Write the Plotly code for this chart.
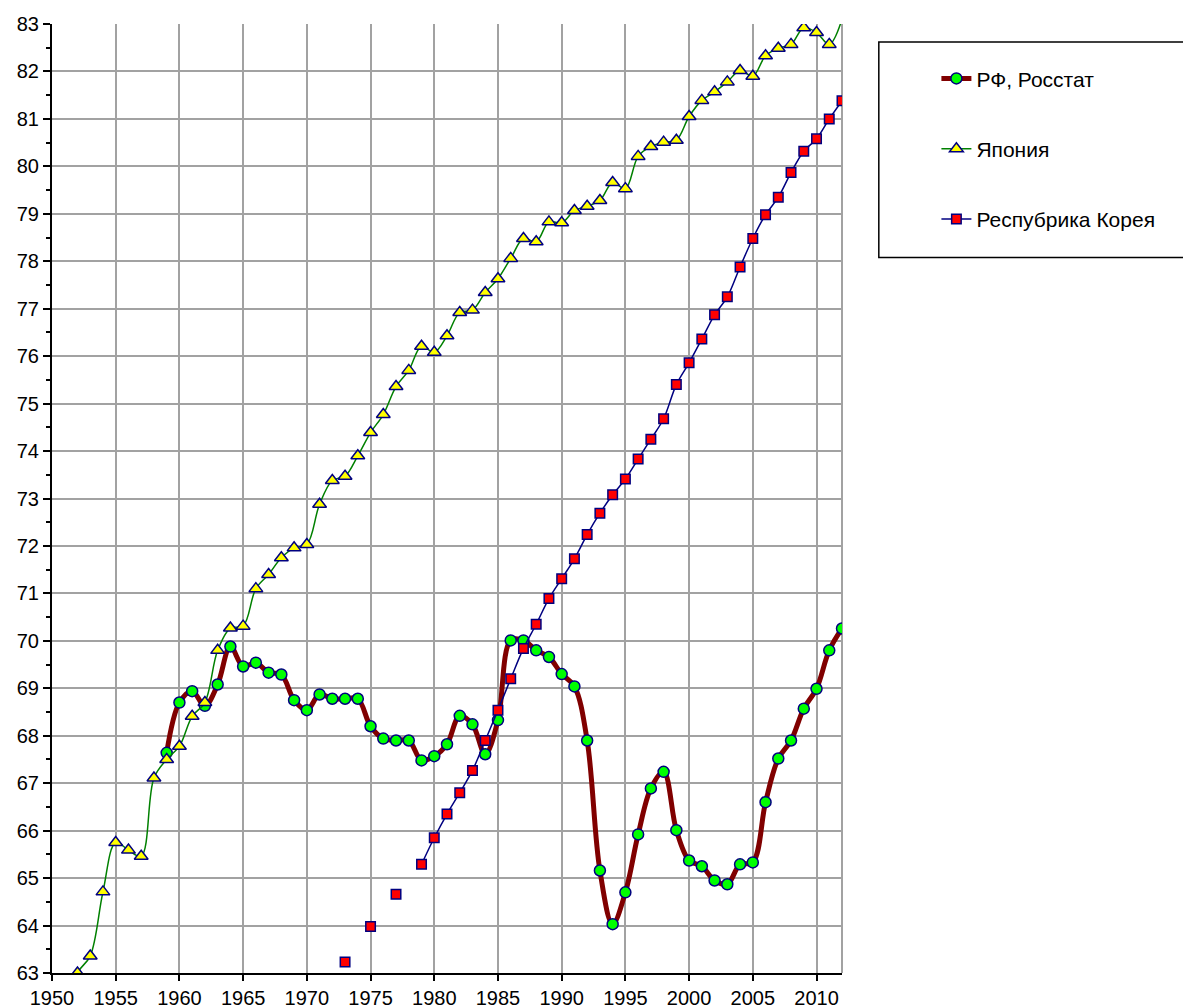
import plotly.graph_objects as go

# ---- data ----
rus_years = list(range(1959, 2013))
rus_values = [67.64, 68.70, 68.94, 68.63, 69.08, 69.88, 69.46, 69.54, 69.33, 69.29,
              68.75, 68.54, 68.87, 68.78, 68.78, 68.78, 68.20, 67.94, 67.90, 67.90,
              67.48, 67.57, 67.82, 68.42, 68.24, 67.61, 68.33, 70.01, 70.01, 69.80,
              69.66, 69.30, 69.04, 67.90, 65.16, 64.03, 64.70, 65.92, 66.89, 67.24,
              66.01, 65.37, 65.25, 64.95, 64.87, 65.29, 65.33, 66.60, 67.52, 67.90,
              68.57, 68.99, 69.80, 70.26]

jpn_years = list(range(1951, 2013))
jpn_values = [62.0, 63.0, 63.36, 64.71, 65.75, 65.59, 65.46, 67.11, 67.50, 67.78,
              68.41, 68.70, 69.80, 70.27, 70.31, 71.10, 71.40, 71.75, 71.96, 72.03,
              72.88, 73.38, 73.47, 73.90, 74.39, 74.77, 75.36, 75.70, 76.21, 76.08,
              76.43, 76.92, 76.97, 77.34, 77.63, 78.06, 78.48, 78.41, 78.83, 78.81,
              79.07, 79.16, 79.28, 79.66, 79.53, 80.21, 80.42, 80.51, 80.55, 81.05,
              81.39, 81.57, 81.78, 82.02, 81.90, 82.33, 82.49, 82.57, 82.92, 82.82,
              82.57, 83.1]

kor_years = list(range(1973, 2013))
kor_values = [63.23, None, 63.98, None, 64.66, None, 65.29, 65.85, 66.35, 66.80,
              67.27, 67.90, 68.54, 69.20, 69.84, 70.35, 70.89, 71.31, 71.73, 72.24,
              72.69, 73.08, 73.41, 73.83, 74.25, 74.68, 75.40, 75.86, 76.36, 76.87,
              77.25, 77.88, 78.48, 78.98, 79.35, 79.87, 80.32, 80.58, 81.00, 81.38]

names = ["РФ, Росстат", "Япония", "Респубрика Корея"]

x_ticks = list(range(1950, 2011, 5))
y_ticks = list(range(63, 84))

NAVY = "#000080"
GRID = "#A2A2A2"
FONT = "Liberation Sans, Arial, sans-serif"

fig = go.Figure()

fig.add_trace(go.Scatter(
    x=rus_years, y=rus_values, name=names[0], mode="lines+markers",
    line=dict(color="#800000", width=5, shape="spline", smoothing=1.0),
    marker=dict(symbol="circle", size=11, color="#00FF00",
                line=dict(color=NAVY, width=1.5)),
    legendgroup="a",
))
fig.add_trace(go.Scatter(
    x=jpn_years, y=jpn_values, name=names[1], mode="lines+markers",
    line=dict(color="#008000", width=1.5, shape="spline", smoothing=1.0),
    marker=dict(symbol="triangle-up", size=12, color="#FFFF00",
                line=dict(color=NAVY, width=1.5)),
    legendgroup="b",
))
fig.add_trace(go.Scatter(
    x=kor_years, y=kor_values, name=names[2], mode="lines+markers",
    connectgaps=False,
    line=dict(color=NAVY, width=1.5, shape="spline", smoothing=1.0),
    marker=dict(symbol="square", size=9.5, color="#FF0000",
                line=dict(color=NAVY, width=1.5)),
    legendgroup="c",
))

fig.update_layout(
    width=1183, height=1008,
    margin=dict(l=52, r=340.5, t=23.7, b=35.3, autoexpand=False),
    paper_bgcolor="white", plot_bgcolor="white",
    font=dict(family=FONT, size=20, color="black"),
    showlegend=True,
    legend=dict(
        x=1.1195, y=0.9639, xanchor="left", yanchor="top",
        bgcolor="rgba(0,0,0,0)", borderwidth=0,
        traceorder="grouped", tracegroupgap=40,
        font=dict(family=FONT, size=21, color="black"),
    ),
    xaxis=dict(
        range=[1950, 2012], tickmode="array", tickvals=x_ticks,
        ticktext=[str(v) for v in x_ticks], automargin=False,
        showgrid=True, gridcolor=GRID, gridwidth=2,
        showline=True, linecolor="black", linewidth=2,
        ticks="outside", ticklen=6, tickwidth=1.5, tickcolor="black",
        tickfont=dict(family=FONT, size=20), zeroline=False,
    ),
    yaxis=dict(
        range=[63, 83], tickmode="array", tickvals=y_ticks,
        ticktext=[str(v) for v in y_ticks], automargin=False,
        showgrid=True, gridcolor=GRID, gridwidth=2,
        showline=True, linecolor="black", linewidth=2,
        ticks="outside", ticklen=7, tickwidth=1.5, tickcolor="black",
        minor=dict(dtick=0.5, ticks="outside", ticklen=4, tickwidth=1.5,
                   tickcolor="black", showgrid=False),
        tickfont=dict(family=FONT, size=20), zeroline=False,
    ),
    shapes=[
        dict(type="line", xref="paper", yref="paper", x0=1, x1=1, y0=0, y1=1,
             line=dict(color=GRID, width=2), layer="below"),
        dict(type="rect", xref="paper", yref="paper",
             x0=1.0466, x1=1.435, y0=0.754, y1=0.981,
             line=dict(color="black", width=1.5), fillcolor="rgba(0,0,0,0)"),
    ],
)

fig.write_html(
    "out.html",
    config={"displayModeBar": False},
    post_script="document.body.style.margin='0';document.body.style.overflow='hidden';",
)
